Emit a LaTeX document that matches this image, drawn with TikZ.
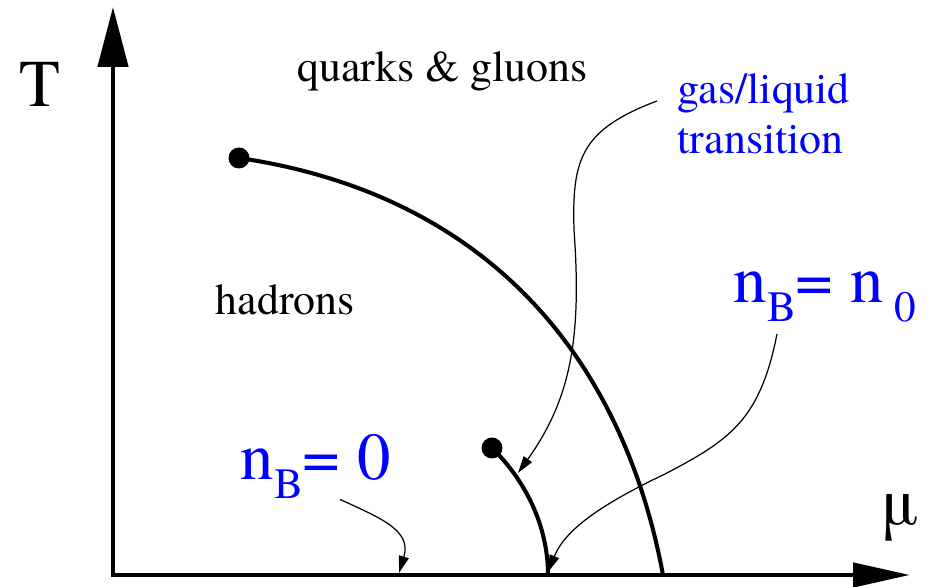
\documentclass[tikz,border=0pt]{standalone}
\usepackage{fontspec}
\setmainfont{texgyretermes}[Extension=.otf, UprightFont=*-regular, BoldFont=*-bold, ItalicFont=*-italic]
\usetikzlibrary{arrows.meta}

\newcommand{\lowsub}[1]{\raisebox{-0.28em}{\fontsize{12.3}{13}\selectfont #1}}

\begin{document}
\begin{tikzpicture}[
    lbl/.style={inner sep=0pt, anchor=base west, font=\rmfamily\fontsize{12.5}{14.2}\selectfont},
    biglbl/.style={inner sep=0pt, anchor=base west, font=\rmfamily\fontsize{19}{21}\selectfont},
    line/.style={line width=1.15pt},
    pointer/.style={line width=0.35pt, -{Triangle[length=1.7mm, width=1mm]}},
    cp/.style={circle, fill, inner sep=0pt, minimum size=2.1mm}
]
    \useasboundingbox (0,0) rectangle (9.35,5.87);

    % axes
    \coordinate (O) at (1.13,0.12);
    \coordinate (ytip) at (1.13,5.80);
    \coordinate (xtip) at (9.10,0.12);
    \draw[line width=1.3pt, {Triangle[length=6mm, width=3mm]}-{Triangle[length=5.7mm, width=2.4mm]}] (ytip) -- (O) -- (xtip);
    \node[biglbl] (Tlab) at (0.19,4.80) {T};
    \node[biglbl] (mulab) at (8.80,0.62) {μ};

    % phase boundaries
    \node[cp] (cpqg) at (2.39,4.29) {};
    \node[cp] (cpgl) at (4.92,1.39) {};
    \coordinate (endqg) at (6.63,0.12);
    \coordinate (endgl) at (5.48,0.12);
    \draw[line] (cpqg.center) .. controls (4.90,3.92) and (6.23,2.27) .. (endqg);
    \draw[line] (cpgl.center) .. controls (5.20,1.12) and (5.48,0.67) .. (endgl);

    % region labels
    \node[lbl] (qg) at (2.97,5.05) {quarks \& gluons};
    \node[lbl] (had) at (2.15,2.72) {hadrons};
    \node[lbl, blue, anchor=north west, align=left] (gasliq) at (6.77,5.14) {gas/liquid\\transition};
    \node[biglbl, blue] (nbzero) at (2.40,1.07) {n\lowsub{B}= 0};
    \node[biglbl, blue] (nbnzero) at (7.33,2.84) {n\lowsub{B}= n\,\lowsub{0}};

    % pointers
    \coordinate (onglline) at (5.18,1.14);
    \coordinate (onaxis) at (3.99,0.14);
    \coordinate (onfoot) at (5.48,0.15);
    \draw[pointer] ([shift={(-0.20,-0.28)}]gasliq.north west) .. controls (5.80,4.57) and (5.72,4.27) .. (5.74,3.57)
        .. controls (5.82,2.47) and (5.70,1.87) .. (onglline);
    \draw[pointer] ([xshift=1cm]nbzero.south west) .. controls (3.80,0.69) and (4.12,0.57) .. (onaxis);
    \draw[pointer] ([shift={(0.44,-0.11)}]nbnzero.south west) .. controls (7.60,1.67) and (7.30,1.47) .. (6.65,1.13)
        .. controls (6.00,0.82) and (5.65,0.57) .. (onfoot);
\end{tikzpicture}
\end{document}
